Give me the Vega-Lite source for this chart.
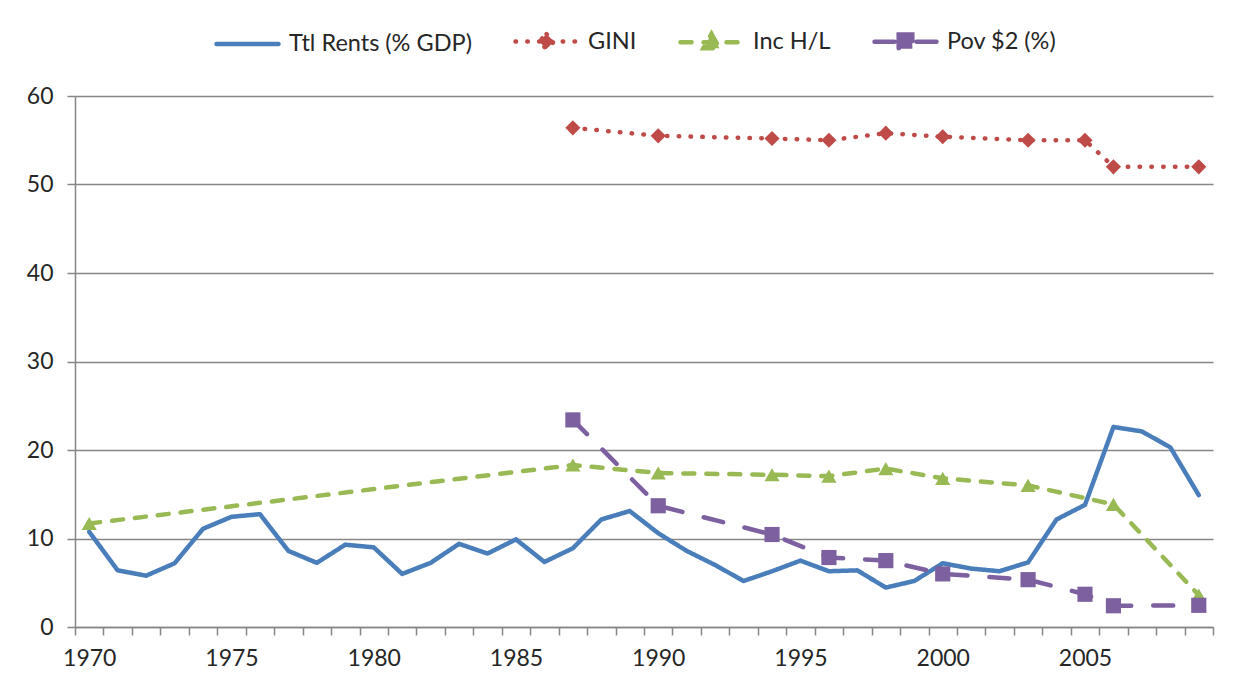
{
  "$schema": "https://vega.github.io/schema/vega-lite/v6.json",
  "width": 1138,
  "height": 531,
  "autosize": {"type": "none"},
  "padding": {"left": 75, "top": 96, "right": 40, "bottom": 67},
  "background": "white",
  "config": {
    "view": {"stroke": null},
    "font": "Lato",
    "axis": {
      "labelFont": "Lato",
      "labelFontSize": 23,
      "labelColor": "#262626",
      "domainColor": "#868686",
      "domainWidth": 1.5,
      "tickColor": "#868686",
      "tickWidth": 1.5,
      "gridColor": "#868686",
      "gridWidth": 1.5,
      "title": null
    }
  },
  "data": {
    "values": [
      {"year": 1970, "series": "Ttl Rents (% GDP)", "value": 10.75},
      {"year": 1971, "series": "Ttl Rents (% GDP)", "value": 6.4},
      {"year": 1972, "series": "Ttl Rents (% GDP)", "value": 5.8},
      {"year": 1973, "series": "Ttl Rents (% GDP)", "value": 7.2},
      {"year": 1974, "series": "Ttl Rents (% GDP)", "value": 11.1},
      {"year": 1975, "series": "Ttl Rents (% GDP)", "value": 12.45},
      {"year": 1976, "series": "Ttl Rents (% GDP)", "value": 12.75},
      {"year": 1977, "series": "Ttl Rents (% GDP)", "value": 8.6},
      {"year": 1978, "series": "Ttl Rents (% GDP)", "value": 7.25},
      {"year": 1979, "series": "Ttl Rents (% GDP)", "value": 9.3},
      {"year": 1980, "series": "Ttl Rents (% GDP)", "value": 9.0},
      {"year": 1981, "series": "Ttl Rents (% GDP)", "value": 6.0},
      {"year": 1982, "series": "Ttl Rents (% GDP)", "value": 7.25},
      {"year": 1983, "series": "Ttl Rents (% GDP)", "value": 9.4},
      {"year": 1984, "series": "Ttl Rents (% GDP)", "value": 8.3},
      {"year": 1985, "series": "Ttl Rents (% GDP)", "value": 9.9},
      {"year": 1986, "series": "Ttl Rents (% GDP)", "value": 7.35},
      {"year": 1987, "series": "Ttl Rents (% GDP)", "value": 8.9},
      {"year": 1988, "series": "Ttl Rents (% GDP)", "value": 12.15},
      {"year": 1989, "series": "Ttl Rents (% GDP)", "value": 13.1},
      {"year": 1990, "series": "Ttl Rents (% GDP)", "value": 10.6},
      {"year": 1991, "series": "Ttl Rents (% GDP)", "value": 8.6},
      {"year": 1992, "series": "Ttl Rents (% GDP)", "value": 7.0},
      {"year": 1993, "series": "Ttl Rents (% GDP)", "value": 5.2},
      {"year": 1994, "series": "Ttl Rents (% GDP)", "value": 6.3},
      {"year": 1995, "series": "Ttl Rents (% GDP)", "value": 7.5},
      {"year": 1996, "series": "Ttl Rents (% GDP)", "value": 6.3},
      {"year": 1997, "series": "Ttl Rents (% GDP)", "value": 6.4},
      {"year": 1998, "series": "Ttl Rents (% GDP)", "value": 4.45},
      {"year": 1999, "series": "Ttl Rents (% GDP)", "value": 5.2},
      {"year": 2000, "series": "Ttl Rents (% GDP)", "value": 7.2},
      {"year": 2001, "series": "Ttl Rents (% GDP)", "value": 6.6},
      {"year": 2002, "series": "Ttl Rents (% GDP)", "value": 6.3},
      {"year": 2003, "series": "Ttl Rents (% GDP)", "value": 7.3},
      {"year": 2004, "series": "Ttl Rents (% GDP)", "value": 12.15},
      {"year": 2005, "series": "Ttl Rents (% GDP)", "value": 13.8},
      {"year": 2006, "series": "Ttl Rents (% GDP)", "value": 22.6},
      {"year": 2007, "series": "Ttl Rents (% GDP)", "value": 22.1},
      {"year": 2008, "series": "Ttl Rents (% GDP)", "value": 20.3},
      {"year": 2009, "series": "Ttl Rents (% GDP)", "value": 14.9},
      {"year": 1987, "series": "GINI", "value": 56.4},
      {"year": 1990, "series": "GINI", "value": 55.5},
      {"year": 1994, "series": "GINI", "value": 55.2},
      {"year": 1996, "series": "GINI", "value": 55.0},
      {"year": 1998, "series": "GINI", "value": 55.8},
      {"year": 2000, "series": "GINI", "value": 55.4},
      {"year": 2003, "series": "GINI", "value": 55.0},
      {"year": 2005, "series": "GINI", "value": 55.0},
      {"year": 2006, "series": "GINI", "value": 52.0},
      {"year": 2009, "series": "GINI", "value": 52.0},
      {"year": 1970, "series": "Inc H/L", "value": 11.7},
      {"year": 1987, "series": "Inc H/L", "value": 18.3},
      {"year": 1990, "series": "Inc H/L", "value": 17.4},
      {"year": 1994, "series": "Inc H/L", "value": 17.2},
      {"year": 1996, "series": "Inc H/L", "value": 17.05},
      {"year": 1998, "series": "Inc H/L", "value": 17.9},
      {"year": 2000, "series": "Inc H/L", "value": 16.8},
      {"year": 2003, "series": "Inc H/L", "value": 16.0},
      {"year": 2006, "series": "Inc H/L", "value": 13.85},
      {"year": 2009, "series": "Inc H/L", "value": 3.6},
      {"year": 1987, "series": "Pov $2 (%)", "value": 23.4},
      {"year": 1990, "series": "Pov $2 (%)", "value": 13.7},
      {"year": 1994, "series": "Pov $2 (%)", "value": 10.45},
      {"year": 1996, "series": "Pov $2 (%)", "value": 7.85},
      {"year": 1998, "series": "Pov $2 (%)", "value": 7.5},
      {"year": 2000, "series": "Pov $2 (%)", "value": 6.0},
      {"year": 2003, "series": "Pov $2 (%)", "value": 5.35},
      {"year": 2005, "series": "Pov $2 (%)", "value": 3.7},
      {"year": 2006, "series": "Pov $2 (%)", "value": 2.4},
      {"year": 2009, "series": "Pov $2 (%)", "value": 2.45}
    ]
  },
  "encoding": {
    "y": {
      "field": "value",
      "type": "quantitative",
      "scale": {"domain": [0, 60], "nice": false},
      "axis": {
        "values": [0, 10, 20, 30, 40, 50, 60],
        "grid": true,
        "tickSize": 8,
        "labelPadding": 14
      }
    },
    "color": {
      "field": "series",
      "type": "nominal",
      "scale": {
        "domain": ["Ttl Rents (% GDP)", "GINI", "Inc H/L", "Pov $2 (%)"],
        "range": ["#4A7EBB", "#BE4B48", "#98B954", "#7D60A0"]
      }
    }
  },
  "layer": [
    {
      "mark": {"type": "line", "strokeWidth": 4.5, "strokeCap": "round", "strokeJoin": "round"},
      "encoding": {
        "x": {
          "field": "year",
          "type": "quantitative",
          "scale": {"domain": [1969.5, 2009.5], "nice": false, "zero": false},
          "axis": {
            "orient": "bottom",
            "values": [1969.5, 1970.5, 1971.5, 1972.5, 1973.5, 1974.5, 1975.5, 1976.5, 1977.5, 1978.5, 1979.5, 1980.5, 1981.5, 1982.5, 1983.5, 1984.5, 1985.5, 1986.5, 1987.5, 1988.5, 1989.5, 1990.5, 1991.5, 1992.5, 1993.5, 1994.5, 1995.5, 1996.5, 1997.5, 1998.5, 1999.5, 2000.5, 2001.5, 2002.5, 2003.5, 2004.5, 2005.5, 2006.5, 2007.5, 2008.5, 2009.5],
            "labels": false,
            "grid": false,
            "tickSize": 8
          }
        },
        "strokeDash": {
          "field": "series",
          "type": "nominal",
          "scale": {
            "domain": ["Ttl Rents (% GDP)", "GINI", "Inc H/L", "Pov $2 (%)"],
            "range": [[1, 0], [0.5, 11.3], [11, 12], [20, 22]]
          },
          "legend": null
        },
        "color": {
          "field": "series",
          "type": "nominal",
          "legend": {
            "orient": "none",
            "legendX": 139,
            "legendY": -88,
            "direction": "horizontal",
            "title": null,
            "padding": 0,
            "symbolSize": 3844,
            "symbolStrokeWidth": 4.5,
            "labelFont": "Lato",
            "labelFontSize": 23.5,
            "labelColor": "#262626",
            "labelLimit": 400,
            "labelOffset": 8,
            "columnPadding": 34,
            "encode": {
              "symbols": {
                "update": {
                  "shape": {"signal": "datum.value === 'GINI' ? 'M-1,0H1M0,-0.24L0.24,0L0,0.24L-0.24,0Z' : datum.value === 'Inc H/L' ? 'M-1,0H1M0,-0.27L0.26,0.19L-0.26,0.19Z' : datum.value === 'Pov $2 (%)' ? 'M-1,0H1M-0.22,-0.23H0.22V0.23H-0.22Z' : 'M-1,0H1'"},
                  "fill": {"signal": "datum.value === 'GINI' ? '#BE4B48' : datum.value === 'Inc H/L' ? '#98B954' : datum.value === 'Pov $2 (%)' ? '#7D60A0' : '#4A7EBB'"},
                  "stroke": {"signal": "datum.value === 'GINI' ? '#BE4B48' : datum.value === 'Inc H/L' ? '#98B954' : datum.value === 'Pov $2 (%)' ? '#7D60A0' : '#4A7EBB'"},
                  "strokeDash": {"signal": "datum.value === 'GINI' ? [0.5, 11.3] : datum.value === 'Inc H/L' ? [11, 12] : datum.value === 'Pov $2 (%)' ? [20, 22] : [1, 0]"},
                  "strokeCap": {"value": "round"},
                  "opacity": {"value": 1}
                }
              }
            }
          }
        }
      }
    },
    {
      "transform": [{"filter": "datum.series !== 'Ttl Rents (% GDP)'"}],
      "mark": {"type": "point", "filled": true, "opacity": 1, "size": 230},
      "encoding": {
        "x": {
          "field": "year",
          "type": "quantitative",
          "axis": {
            "orient": "bottom",
            "values": [1970, 1975, 1980, 1985, 1990, 1995, 2000, 2005],
            "format": "d",
            "ticks": false,
            "tickSize": 0,
            "domain": false,
            "grid": false,
            "labelPadding": 20,
            "labelFlush": false,
            "labelOverlap": false
          }
        },
        "shape": {
          "field": "series",
          "type": "nominal",
          "scale": {
            "domain": ["GINI", "Inc H/L", "Pov $2 (%)"],
            "range": ["diamond", "triangle-up", "square"]
          },
          "legend": null
        }
      }
    }
  ],
  "resolve": {"axis": {"x": "independent"}}
}
